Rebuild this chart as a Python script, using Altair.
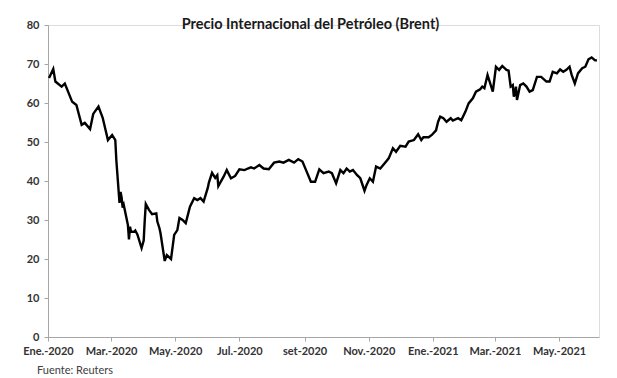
import altair as alt
import pandas as pd

title_text = "Precio Internacional del Petróleo (Brent)"
source_text = "Fuente: Reuters"

dates = [
    "2020-01-02", "2020-01-06", "2020-01-08", "2020-01-14", "2020-01-17", "2020-01-24", "2020-01-28",
    "2020-02-02", "2020-02-05", "2020-02-10", "2020-02-13", "2020-02-18", "2020-02-22", "2020-02-27",
    "2020-03-02", "2020-03-05", "2020-03-06", "2020-03-09", "2020-03-10", "2020-03-11", "2020-03-12",
    "2020-03-13", "2020-03-16", "2020-03-17", "2020-03-18", "2020-03-19", "2020-03-20", "2020-03-23",
    "2020-03-24", "2020-03-26", "2020-03-30", "2020-04-01", "2020-04-02", "2020-04-03", "2020-04-06",
    "2020-04-09", "2020-04-13", "2020-04-14", "2020-04-16", "2020-04-17", "2020-04-21", "2020-04-23",
    "2020-04-27", "2020-04-30", "2020-05-03", "2020-05-05", "2020-05-08", "2020-05-11", "2020-05-15",
    "2020-05-19", "2020-05-22", "2020-05-25", "2020-05-28", "2020-06-01", "2020-06-02", "2020-06-05",
    "2020-06-08", "2020-06-10", "2020-06-11", "2020-06-16", "2020-06-19", "2020-06-23", "2020-06-27",
    "2020-07-01", "2020-07-06", "2020-07-09", "2020-07-12", "2020-07-15", "2020-07-20", "2020-07-24",
    "2020-07-29", "2020-08-03", "2020-08-08", "2020-08-12", "2020-08-17", "2020-08-22", "2020-08-26",
    "2020-08-30", "2020-09-03", "2020-09-07", "2020-09-11", "2020-09-15", "2020-09-19", "2020-09-24",
    "2020-09-27", "2020-10-01", "2020-10-05", "2020-10-08", "2020-10-11", "2020-10-14", "2020-10-17",
    "2020-10-21", "2020-10-24", "2020-10-28", "2020-10-30", "2020-11-02", "2020-11-05", "2020-11-08",
    "2020-11-12", "2020-11-16", "2020-11-20", "2020-11-24", "2020-11-27", "2020-12-01", "2020-12-06",
    "2020-12-09", "2020-12-14", "2020-12-18", "2020-12-21", "2020-12-23", "2020-12-28", "2020-12-31",
    "2021-01-04", "2021-01-06", "2021-01-08", "2021-01-11", "2021-01-14", "2021-01-18", "2021-01-20",
    "2021-01-25", "2021-01-28", "2021-02-01", "2021-02-04", "2021-02-08", "2021-02-11", "2021-02-15",
    "2021-02-17", "2021-02-19", "2021-02-22", "2021-02-27", "2021-03-02", "2021-03-05", "2021-03-08",
    "2021-03-12", "2021-03-14", "2021-03-16", "2021-03-18", "2021-03-19", "2021-03-21", "2021-03-22",
    "2021-03-25", "2021-03-28", "2021-03-31", "2021-04-03", "2021-04-06", "2021-04-10", "2021-04-14",
    "2021-04-19", "2021-04-22", "2021-04-25", "2021-04-29", "2021-05-02", "2021-05-05", "2021-05-08",
    "2021-05-11", "2021-05-13", "2021-05-16", "2021-05-19", "2021-05-23", "2021-05-26", "2021-05-29",
    "2021-06-01", "2021-06-04", "2021-06-06",
]

prices = [
    66.4, 68.7, 65.5, 64.2, 65.0, 60.3, 59.5,
    54.4, 54.9, 53.3, 57.2, 59.1, 56.2, 50.5,
    51.8, 50.5, 45.3, 34.4, 37.2, 35.8, 33.2,
    33.9, 30.0, 28.7, 25.0, 28.3, 27.0, 27.0,
    27.3, 26.3, 22.8, 24.7, 29.9, 34.1, 32.6,
    31.5, 31.7, 29.6, 27.9, 26.6, 19.5, 21.0,
    20.0, 26.2, 27.4, 30.5, 30.0, 29.2, 33.4,
    35.6, 35.1, 35.6, 34.7, 38.3, 39.6, 42.1,
    40.8, 41.5, 38.7, 41.1, 42.8, 40.7, 41.3,
    43.0, 42.8, 43.2, 43.5, 43.2, 44.1, 43.2,
    43.0, 44.7, 45.0, 44.7, 45.4, 44.7, 45.6,
    45.0, 42.4, 39.8, 39.8, 43.0, 42.0, 42.4,
    42.0, 39.4, 42.8, 42.0, 43.2, 42.4, 42.8,
    41.5, 40.7, 37.5, 39.0, 40.7, 39.8, 43.7,
    43.2, 44.5, 45.8, 48.4, 47.5, 49.0, 48.8,
    50.1, 50.5, 52.0, 50.5, 51.2, 51.2, 51.8,
    53.0, 55.2, 56.5, 56.1, 55.2, 56.1, 55.5,
    56.1, 55.6, 57.8, 59.9, 61.2, 62.9, 63.5,
    64.2, 63.8, 67.2, 62.9, 69.3, 68.5, 69.5,
    68.5, 68.3, 64.2, 64.6, 61.6, 64.2, 60.8,
    64.6, 65.0, 64.2, 62.9, 63.3, 66.7, 66.7,
    65.5, 65.5, 68.0, 67.6, 68.6, 68.0, 68.5,
    69.3, 67.2, 65.0, 67.6, 68.9, 69.3, 71.2,
    71.7, 71.0, 70.9,
]

tick_labels = ["Ene.-2020", "Mar.-2020", "May.-2020", "Jul.-2020", "set-2020",
               "Nov.-2020", "Ene.-2021", "Mar.-2021", "May.-2021"]
tick_months = [(2020, 1), (2020, 3), (2020, 5), (2020, 7), (2020, 9),
               (2020, 11), (2021, 1), (2021, 3), (2021, 5)]
y_ticks = [0, 10, 20, 30, 40, 50, 60, 70, 80]

df = pd.DataFrame({"fecha": dates, "precio": prices})

W, H = 551, 312
FONT = "Lato"
label_array = "[" + ",".join("'" + t + "'" for t in tick_labels) + "]"
label_expr = label_array + "[floor(((utcyear(datum.value) - 2020) * 12 + utcmonth(datum.value)) / 2)]"

x_enc = alt.X(
    "fecha:T",
    scale=alt.Scale(
        type="utc",
        domain=[alt.DateTime(year=2020, month=1, date=1, utc=True),
                alt.DateTime(year=2021, month=6, date=8, utc=True)],
        nice=False,
    ),
    axis=alt.Axis(
        title=None,
        values=[alt.DateTime(year=y, month=m, date=1, utc=True) for y, m in tick_months],
        labelExpr=label_expr,
        grid=False,
        domainColor="#a6a6a6",
        tickColor="#a6a6a6",
        tickSize=4,
        labelFont=FONT,
        labelFontSize=11,
        labelFontWeight="bold",
        labelColor="#333333",
        labelPadding=4,
        labelOverlap=False,
        labelFlush=False,
    ),
)

y_enc = alt.Y(
    "precio:Q",
    scale=alt.Scale(domain=[0, 80], nice=False, zero=True),
    axis=alt.Axis(
        title=None,
        values=y_ticks,
        grid=False,
        domainColor="#a6a6a6",
        tickColor="#a6a6a6",
        tickSize=4,
        labelFont=FONT,
        labelFontSize=11,
        labelFontWeight="bold",
        labelColor="#333333",
        labelPadding=5,
        labelFlush=False,
    ),
)

line = alt.Chart(df).mark_line(color="#000000", strokeWidth=2.4).encode(x=x_enc, y=y_enc)

title = alt.Chart(pd.DataFrame({"t": [title_text]})).mark_text(
    align="center", baseline="alphabetic", font=FONT, fontSize=14.5, fontWeight="bold", color="#1a1a1a"
).encode(text="t:N", x=alt.value(W / 2 - 13), y=alt.value(4))

source = alt.Chart(pd.DataFrame({"t": [source_text]})).mark_text(
    align="left", baseline="alphabetic", font=FONT, fontSize=11, color="#404040"
).encode(text="t:N", x=alt.value(-11), y=alt.value(H + 37))

chart = alt.layer(line, title, source).properties(
    width=W,
    height=H,
    padding={"left": 48, "top": 25, "right": 18, "bottom": 41},
    autosize=alt.AutoSizeParams(type="none"),
).configure_view(stroke=None).configure(background="white")

chart.save("out.html", embed_options={"renderer": "svg", "actions": False})
